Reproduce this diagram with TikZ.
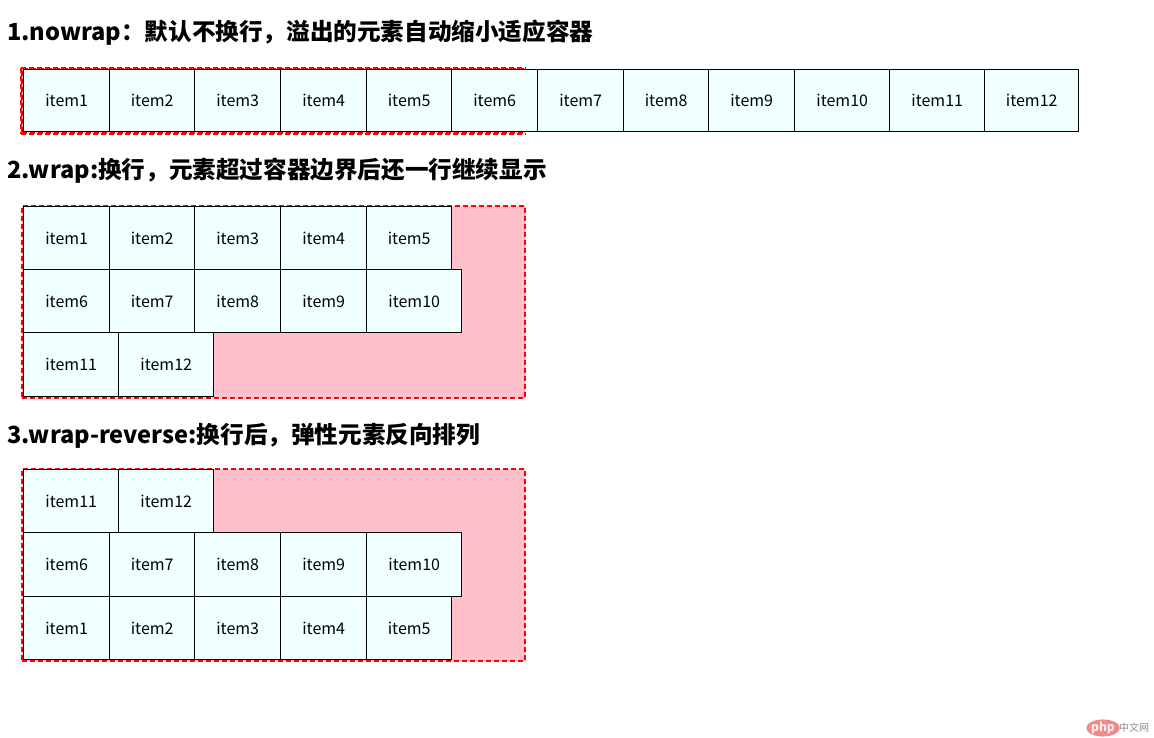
\documentclass[tikz,border=0pt]{standalone}
\usepackage{fontspec}
\setmainfont{Noto Sans CJK SC}
\newfontfamily\cjk{Noto Sans CJK SC}
\usetikzlibrary{shapes.geometric}
\definecolor{itemfill}{HTML}{F0FFFF}
\definecolor{contfill}{HTML}{FFC0CB}
\definecolor{wmred}{HTML}{EE7777}
\tikzset{
  itembox/.style={draw=black, line width=1.4pt, fill=itemfill, inner sep=0pt, anchor=north west, font=\cjk\fontsize{16}{18}\selectfont},
  contbox/.style={draw=red, line width=1.8pt, dash pattern=on 5pt off 3pt, fill=contfill, inner sep=0pt, anchor=north west},
  contline/.style={red, line width=1.8pt, dash pattern=on 5pt off 3pt},
  heading/.style={anchor=west, inner sep=0pt, font=\cjk\bfseries\fontsize{23.6}{28}\selectfont}
}
\newcommand\itm[6]{\node[itembox, minimum width={(#4-#2)*1pt}, minimum height={(#5-#3)*1pt}] (#1) at (#2,#3) {#6};}
\begin{document}
\begin{tikzpicture}[x=1pt,y=-1pt]
\useasboundingbox (0,0) rectangle (1154,738);
\fill[white] (0,0) rectangle (1154,738);
% headings
\node[heading] (h1) at (7,33) {1.nowrap：默认不换行，溢出的元素自动缩小适应容器};
\node[heading] (h2) at (7,171) {2.wrap:换行，元素超过容器边界后还一行继续显示};
\node[heading] (h3) at (7,436) {3.wrap-reverse:换行后，弹性元素反向排列};
% section 1
\node[contbox, minimum width=503pt, minimum height=64pt] (c1) at (21,68) {};
\itm{a1}{23}{69}{109}{131}{item1}
\itm{a2}{109}{69}{194}{131}{item2}
\itm{a3}{194}{69}{280}{131}{item3}
\itm{a4}{280}{69}{366}{131}{item4}
\itm{a5}{366}{69}{451}{131}{item5}
\itm{a6}{451}{69}{537}{131}{item6}
\itm{a7}{537}{69}{623}{131}{item7}
\itm{a8}{623}{69}{708}{131}{item8}
\itm{a9}{708}{69}{794}{131}{item9}
\itm{a10}{794}{69}{889}{131}{item10}
\itm{a11}{889}{69}{984}{131}{item11}
\itm{a12}{984}{69}{1078}{131}{item12}
\draw[contline] (c1.north west) -- (c1.north east);
\draw[contline] (c1.south west) -- (c1.south east);
\draw[contline] (c1.north west) -- (c1.south west);
% section 2
\node[contbox, minimum width=503pt, minimum height=192pt] (c2) at (21,205) {};
\itm{b1}{23}{206}{109}{269}{item1}
\itm{b2}{109}{206}{194}{269}{item2}
\itm{b3}{194}{206}{280}{269}{item3}
\itm{b4}{280}{206}{366}{269}{item4}
\itm{b5}{366}{206}{451}{269}{item5}
\itm{b6}{23}{269}{109}{332}{item6}
\itm{b7}{109}{269}{194}{332}{item7}
\itm{b8}{194}{269}{280}{332}{item8}
\itm{b9}{280}{269}{366}{332}{item9}
\itm{b10}{366}{269}{461}{332}{item10}
\itm{b11}{23}{332}{118}{396}{item11}
\itm{b12}{118}{332}{213}{396}{item12}
% section 3
\node[contbox, minimum width=503pt, minimum height=192pt] (c3) at (21,468) {};
\itm{r11}{23}{469}{118}{532}{item11}
\itm{r12}{118}{469}{213}{532}{item12}
\itm{r6}{23}{532}{109}{596}{item6}
\itm{r7}{109}{532}{194}{596}{item7}
\itm{r8}{194}{532}{280}{596}{item8}
\itm{r9}{280}{532}{366}{596}{item9}
\itm{r10}{366}{532}{461}{596}{item10}
\itm{r1}{23}{596}{109}{659}{item1}
\itm{r2}{109}{596}{194}{659}{item2}
\itm{r3}{194}{596}{280}{659}{item3}
\itm{r4}{280}{596}{366}{659}{item4}
\itm{r5}{366}{596}{451}{659}{item5}
% watermark
\node[ellipse, fill=wmred, opacity=0.85, minimum width=28pt, minimum height=12pt, inner sep=0pt, text=white, font=\cjk\bfseries\itshape\fontsize{12}{12}\selectfont] (wm) at (1103,728) {php};
\node[anchor=west, inner sep=0pt, text=black!45, font=\cjk\fontsize{10}{10}\selectfont] (wmt) at (1119,728) {中文网};
\end{tikzpicture}
\end{document}
